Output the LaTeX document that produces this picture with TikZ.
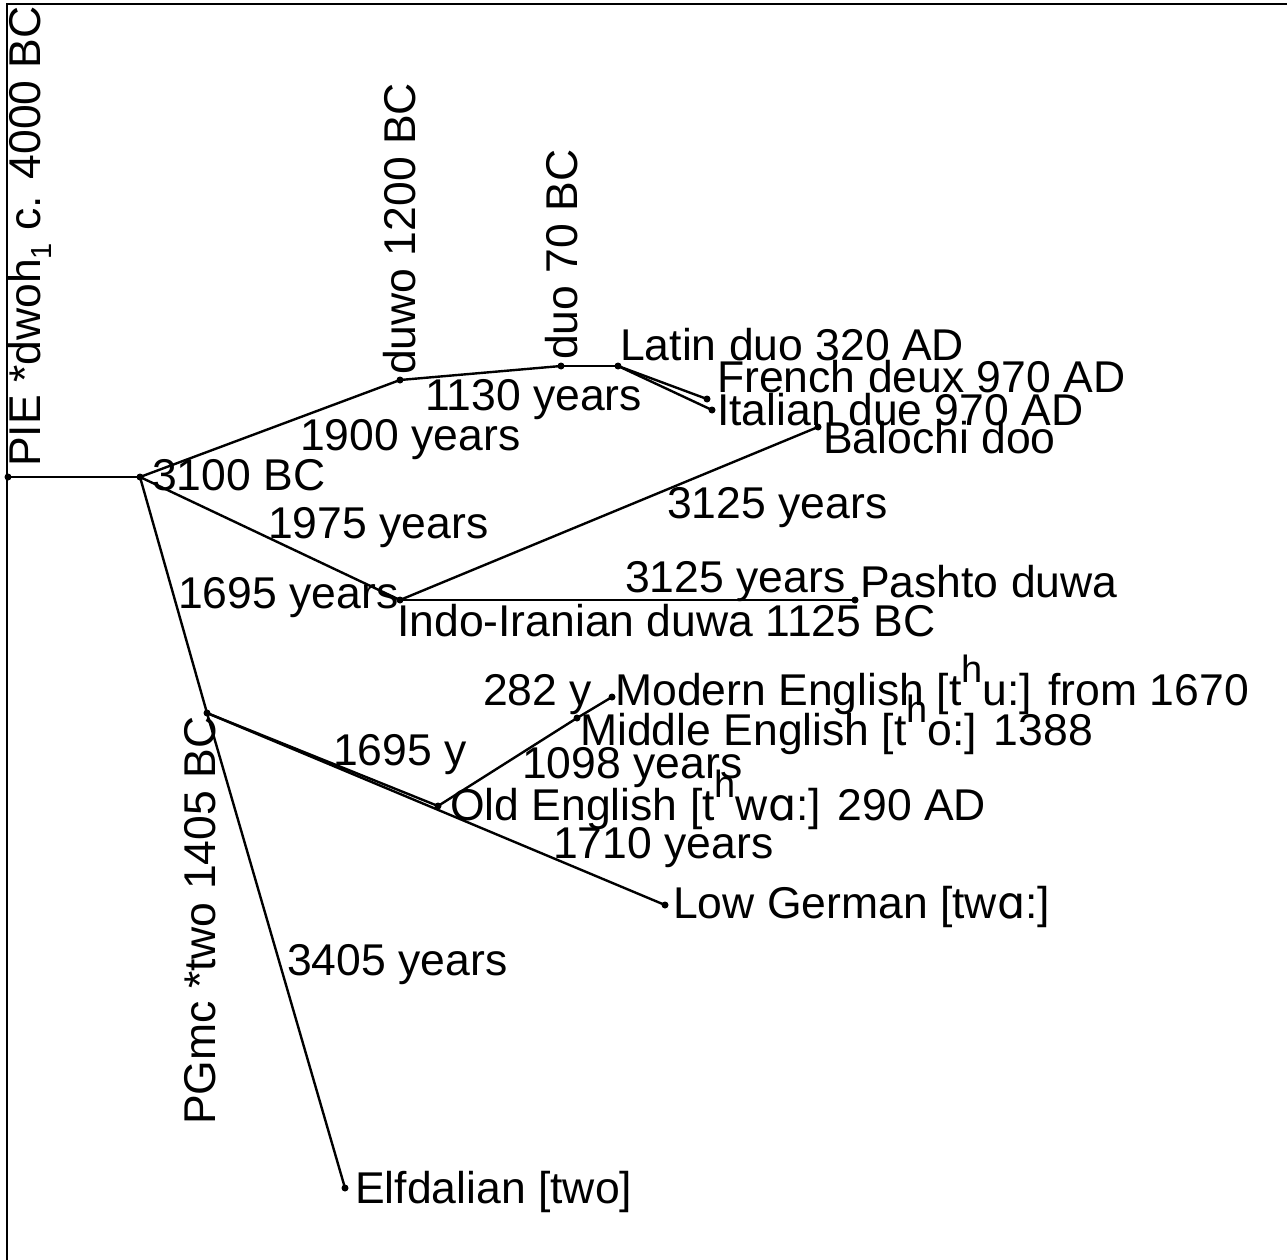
\documentclass[tikz,border=0pt]{standalone}
\usepackage{fontspec}
\setmainfont{Liberation Sans}
\newfontfamily\ipafont{DejaVu Sans}
\newcommand{\ipaA}{{\ipafont ɑ}}
\newcommand{\aspH}{\raisebox{0.5em}{\fontsize{38}{38}\selectfont h}}
\newcommand{\subOne}{\raisebox{-0.25em}{\fontsize{29}{29}\selectfont 1}}
\begin{document}
\begin{tikzpicture}[x=1pt,y=-1pt,
  vtx/.style={circle,fill=black,inner sep=0pt,minimum size=7pt},
  branch/.style={line width=2.4pt,black},
  lbl/.style={anchor=base west,inner sep=0pt,font=\fontsize{44.5}{50}\selectfont},
  vlbl/.style={lbl,rotate=90},
  frameline/.style={line width=2.2pt,black}]
\useasboundingbox (0,0) rectangle (1287,1260);
% frame
\coordinate (fbl) at (7,1260);
\coordinate (ftl) at (7,4);
\coordinate (ftr) at (1287,4);
\draw[frameline] (fbl) -- (ftl) -- (ftr);
% vertices
\node[vtx] (pie) at (8,477) {};
\node[vtx] (n3100) at (140,477) {};
\node[vtx] (duwo) at (400,380) {};
\node[vtx] (duo) at (561,366) {};
\node[vtx] (latin) at (618,366) {};
\node[vtx] (french) at (707,399) {};
\node[vtx] (italian) at (712,410) {};
\node[vtx] (balochi) at (818,427) {};
\node[vtx] (indo) at (400,600) {};
\node[vtx] (pashto) at (855,600) {};
\node[vtx] (pgmc) at (207,713) {};
\node[vtx] (elf) at (345,1188) {};
\node[vtx] (oe) at (438,806) {};
\node[vtx] (me) at (577,718) {};
\node[vtx] (mode) at (612,697) {};
\node[vtx] (lowg) at (665,905) {};
% branches
\draw[branch] (pie.center) -- (n3100.center);
\draw[branch] (n3100.center) -- (duwo.center);
\draw[branch] (duwo.center) -- (duo.center);
\draw[branch] (duo.center) -- (latin.center);
\draw[branch] (latin.center) -- (french.center);
\draw[branch] (latin.center) -- (italian.center);
\draw[branch] (n3100.center) -- (indo.center);
\draw[branch] (indo.center) -- (balochi.center);
\draw[branch] (indo.center) -- (pashto.center);
\draw[branch] (n3100.center) -- (pgmc.center);
\draw[branch] (pgmc.center) -- (elf.center);
\draw[branch] (pgmc.center) -- (oe.center);
\draw[branch] (pgmc.center) -- (lowg.center);
\draw[branch] (oe.center) -- (me.center);
\draw[branch] (me.center) -- (mode.center);
% labels
\node[vlbl] (lpie) at (40,467) {PIE *dwoh\subOne{} c. 4000 BC};
\node[lbl] (l3100) at (152,490) {3100 BC};
\node[lbl] (l1900) at (300,450) {1900 years};
\node[lbl] (l1130) at (425,410) {1130 years};
\node[vlbl] (lduwo) at (415,375) {duwo 1200 BC};
\node[vlbl] (lduo) at (577,360) {duo 70 BC};
\node[lbl] (llatin) at (620,360) {Latin duo 320 AD};
\node[lbl] (lfrench) at (717,392) {French deux 970 AD};
\node[lbl] (litalian) at (717,425) {Italian due 970 AD};
\node[lbl] (lbaloch) at (823,453) {Balochi doo};
\node[lbl] (l3125a) at (667,518) {3125 years};
\node[lbl] (l1975) at (268,538) {1975 years};
\node[lbl] (l1695a) at (178,608) {1695 years};
\node[lbl] (l3125b) at (625,592) {3125 years};
\node[lbl] (lpashto) at (860,597) {Pashto duwa};
\node[lbl] (lindo) at (397,636) {Indo-Iranian duwa 1125 BC};
\node[lbl] (l282) at (483,705) {282 y};
\node[lbl] (lmode) at (615,705) {Modern English [t\aspH u:] from 1670};
\node[lbl] (lme) at (580,745) {Middle English [t\aspH o:] 1388};
\node[lbl] (l1695b) at (333,765) {1695 y};
\node[lbl] (l1098) at (522,778) {1098 years};
\node[lbl] (loe) at (450,820) {Old English [t\aspH w\ipaA:] 290 AD};
\node[lbl] (l1710) at (553,858) {1710 years};
\node[lbl] (llowg) at (673,918) {Low German [tw\ipaA:]};
\node[lbl] (l3405) at (287,975) {3405 years};
\node[vlbl] (lpgmc) at (215,1125) {PGmc *two 1405 BC};
\node[lbl] (lelf) at (355,1203) {Elfdalian [two]};
\end{tikzpicture}
\end{document}
